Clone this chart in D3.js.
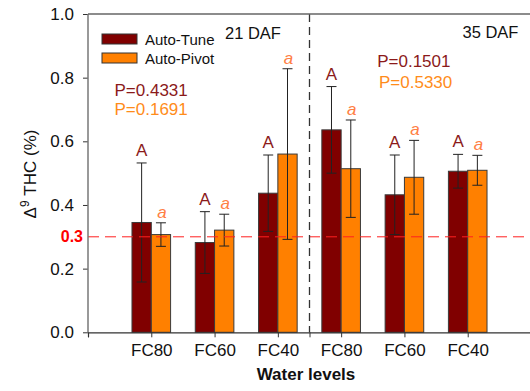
<!DOCTYPE html>
<html>
<head>
<meta charset="utf-8">
<script src="https://cdn.jsdelivr.net/npm/d3@7"></script>
<style>
  body { margin: 0; background: #fff; }
  text { font-family: "Liberation Sans", Arial, sans-serif; }
</style>
</head>
<body>
<div id="chart"></div>
<script>
      // data
      var groups = ['FC80', 'FC60', 'FC40', 'FC80', 'FC60', 'FC40'];
      var tuneMean = [0.345, 0.282, 0.437, 0.636, 0.432, 0.506];
      var tuneErr = [0.187, 0.097, 0.120, 0.136, 0.125, 0.053];
      var pivotMean = [0.307, 0.321, 0.560, 0.514, 0.487, 0.509];
      var pivotErr = [0.037, 0.050, 0.268, 0.153, 0.116, 0.047];
      var tuneLetters = ['A', 'A', 'A', 'A', 'A', 'A'];
      var pivotLetters = ['a', 'a', 'a', 'a', 'a', 'a'];
      var yTicks = [0, 0.2, 0.4, 0.6, 0.8, 1.0];
      var threshold = 0.3;

      var tuneColor = '#800000', pivotColor = '#ff8000';
      var tuneText = '#8b1a1a', pivotText = '#ff8c1a', letterA = '#ff7f45';

      var width = 530, height = 391;

      var svg = d3.select('#chart').append('svg')
        .attr('width', width)
        .attr('height', height);

      var x = d3.scaleLinear().domain([0, 7]).range([88, 531]);
      var y = d3.scaleLinear().domain([0, 1]).range([332.3, 14]);
      var bw = x(1) - x(0);
      var barW = bw * 0.305;

      var rows = groups.map((g, i) => ({
        i: i, name: g,
        tm: tuneMean[i], te: tuneErr[i],
        pm: pivotMean[i], pe: pivotErr[i]
      }));

      // bars
      svg.selectAll('.tune')
        .data(rows)
        .enter()
        .append('rect')
        .attr('class', 'tune')
        .attr('x', d => x(d.i + 1) - barW)
        .attr('y', d => y(d.tm))
        .attr('width', barW)
        .attr('height', d => y(0) - y(d.tm))
        .style('fill', tuneColor)
        .style('stroke', '#3a3a3a')
        .style('stroke-width', 1);

      svg.selectAll('.pivot')
        .data(rows)
        .enter()
        .append('rect')
        .attr('class', 'pivot')
        .attr('x', d => x(d.i + 1))
        .attr('y', d => y(d.pm))
        .attr('width', barW)
        .attr('height', d => y(0) - y(d.pm))
        .style('fill', pivotColor)
        .style('stroke', '#3a3a3a')
        .style('stroke-width', 1);

      // error bars
      function errorBars(cls, cx, mean, err) {
        var g = svg.selectAll('.' + cls)
          .data(rows)
          .enter()
          .append('g')
          .attr('class', cls)
          .style('stroke', '#222')
          .style('stroke-width', 1);
        g.append('line')
          .attr('x1', cx).attr('x2', cx)
          .attr('y1', d => y(mean(d) + err(d)))
          .attr('y2', d => y(mean(d) - err(d)));
        [1, -1].forEach(s => {
          g.append('line')
            .attr('x1', d => cx(d) - 5).attr('x2', d => cx(d) + 5)
            .attr('y1', d => y(mean(d) + s * err(d)))
            .attr('y2', d => y(mean(d) + s * err(d)));
        });
      }
      errorBars('errT', d => x(d.i + 1) - barW / 2, d => d.tm, d => d.te);
      errorBars('errP', d => x(d.i + 1) + barW / 2, d => d.pm, d => d.pe);

      // significance letters
      svg.selectAll('.letT')
        .data(rows)
        .enter()
        .append('text')
        .attr('x', d => x(d.i + 1) - barW / 2)
        .attr('y', d => y(d.tm + d.te) - 7)
        .attr('text-anchor', 'middle')
        .style('font-size', '17px')
        .style('fill', tuneText)
        .text(d => tuneLetters[d.i]);

      svg.selectAll('.letP')
        .data(rows)
        .enter()
        .append('text')
        .attr('x', d => x(d.i + 1) + barW / 2 + 1)
        .attr('y', d => y(d.pm + d.pe) - 5)
        .attr('text-anchor', 'middle')
        .style('font-size', '17px')
        .style('font-style', 'italic')
        .style('fill', letterA)
        .text(d => pivotLetters[d.i]);

      // threshold line
      svg.append('line')
        .attr('x1', x(0)).attr('x2', x(7))
        .attr('y1', y(threshold)).attr('y2', y(threshold))
        .style('stroke', '#ff2020')
        .style('stroke-width', 1)
        .style('stroke-dasharray', '11,6');

      svg.append('text')
        .attr('x', 83)
        .attr('y', y(threshold))
        .attr('dy', '0.35em')
        .attr('text-anchor', 'end')
        .style('font-size', '16px')
        .style('font-weight', 'bold')
        .style('fill', '#ff0000')
        .text('0.3');

      // divider between 21 and 35 DAF
      svg.append('line')
        .attr('x1', x(3.5)).attr('x2', x(3.5))
        .attr('y1', y(1)).attr('y2', y(0))
        .style('stroke', '#333')
        .style('stroke-width', 1.3)
        .style('stroke-dasharray', '8,5');

      // axes
      var xAxis = d3.axisBottom(x)
        .tickValues([0, 1, 2, 3, 3.5, 4, 5, 6])
        .tickSize(5)
        .tickFormat(v => Number.isInteger(v) && v > 0 ? groups[v - 1] : '');

      var gx = svg.append('g')
        .attr('transform', 'translate(0,' + y(0) + ')')
        .call(xAxis);
      gx.select('.domain').style('stroke', '#333').style('stroke-width', 1.2);
      gx.selectAll('.tick line').style('stroke', '#333');
      gx.selectAll('.tick text')
        .attr('y', 12)
        .style('font-size', '17px')
        .style('font-family', '"Liberation Sans", Arial, sans-serif')
        .style('fill', '#111');

      var yAxis = d3.axisLeft(y)
        .tickValues(yTicks)
        .tickSize(5)
        .tickPadding(9)
        .tickFormat(d3.format('.1f'));

      var gy = svg.append('g')
        .attr('transform', 'translate(' + x(0) + ',0)')
        .call(yAxis);
      gy.select('.domain').remove();
      gy.selectAll('.tick line').style('stroke', '#333');
      gy.selectAll('.tick text')
        .style('font-size', '17px')
        .style('font-family', '"Liberation Sans", Arial, sans-serif')
        .style('fill', '#111');

      // frame: left and top
      svg.append('line')
        .attr('x1', x(0)).attr('x2', x(0))
        .attr('y1', y(1)).attr('y2', y(0))
        .style('stroke', '#777').style('stroke-width', 1.5);
      svg.append('line')
        .attr('x1', x(0)).attr('x2', x(7))
        .attr('y1', y(1)).attr('y2', y(1))
        .style('stroke', '#666').style('stroke-width', 1.5);

      // legend
      var legend = [['Auto-Tune', tuneColor], ['Auto-Pivot', pivotColor]];
      legend.forEach((l, i) => {
        svg.append('rect')
          .attr('x', 102).attr('y', 34 + i * 19)
          .attr('width', 35).attr('height', 10)
          .style('fill', l[1])
          .style('stroke', '#333');
        svg.append('text')
          .attr('x', 145).attr('y', 44.5 + i * 19)
          .style('font-size', '15px')
          .style('fill', '#111')
          .text(l[0]);
      });

      // panel labels and P values
      svg.append('text').attr('x', 225).attr('y', 39.3)
        .style('font-size', '16.5px').style('fill', '#111').text('21 DAF');
      svg.append('text').attr('x', 462.5).attr('y', 37.7)
        .style('font-size', '16.5px').style('fill', '#111').text('35 DAF');

      var pTexts = [
        ['P=0.4331', 114.5, 95.7, tuneText],
        ['P=0.1691', 114.5, 115, pivotText],
        ['P=0.1501', 377.2, 66.7, tuneText],
        ['P=0.5330', 379, 88.3, pivotText]
      ];
      pTexts.forEach(p => {
        svg.append('text')
          .attr('x', p[1]).attr('y', p[2])
          .style('font-size', '17px')
          .style('fill', p[3])
          .text(p[0]);
      });

      // axis titles
      svg.append('text')
        .attr('x', 306)
        .attr('y', 380)
        .attr('text-anchor', 'middle')
        .style('font-size', '17px')
        .style('font-weight', 'bold')
        .style('fill', '#111')
        .text('Water levels');

      var yl = svg.append('text')
        .attr('transform', 'translate(36,174) rotate(-90)')
        .attr('text-anchor', 'middle')
        .style('font-size', '17px')
        .style('fill', '#111');
      yl.append('tspan').text('\u0394');
      yl.append('tspan').attr('dy', -7).style('font-size', '12px').text('9');
      yl.append('tspan').attr('dy', 7).text(' THC (%)');
</script>
</body>
</html>
